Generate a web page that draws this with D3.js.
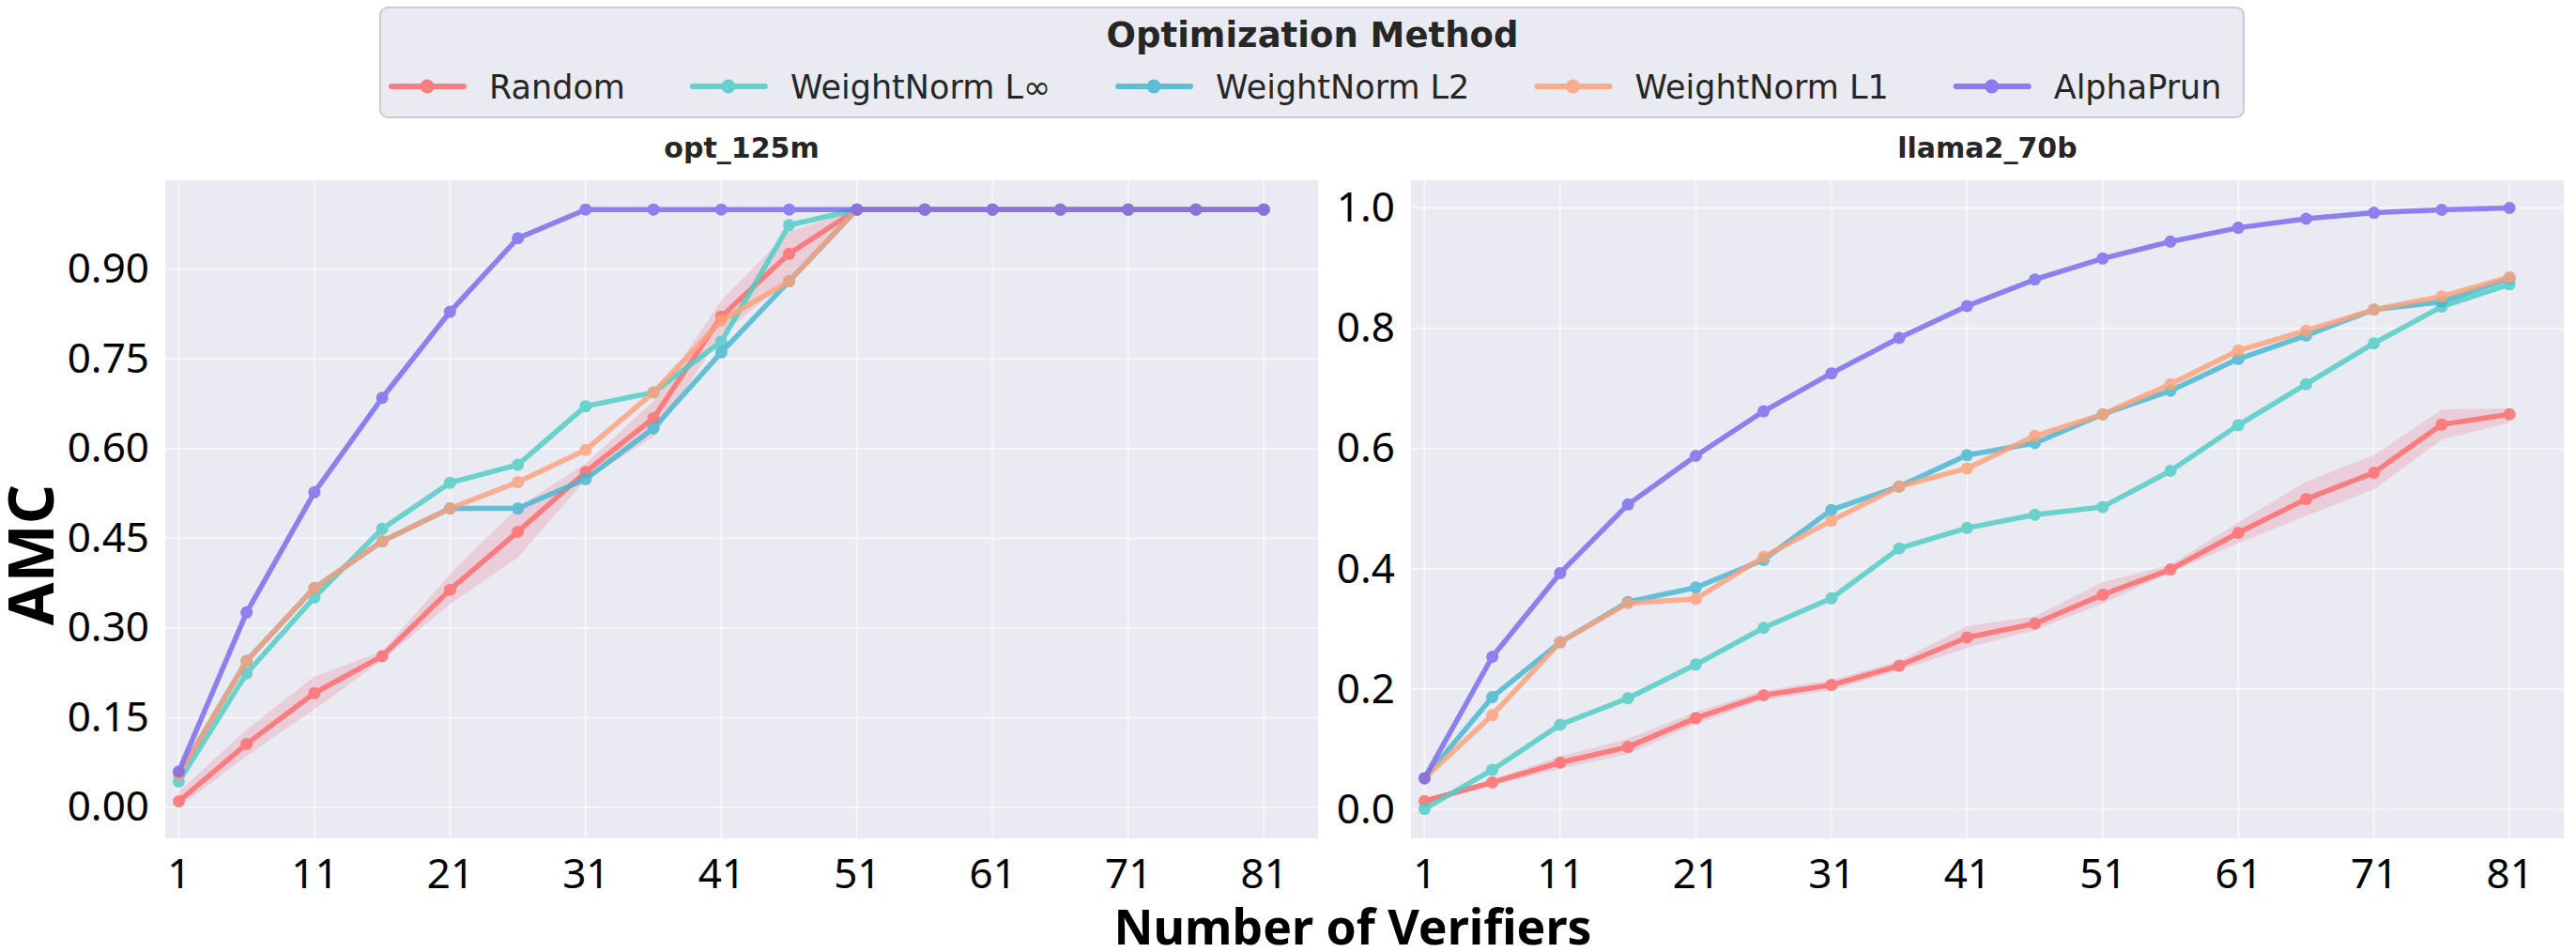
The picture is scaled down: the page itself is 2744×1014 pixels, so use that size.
<!DOCTYPE html>
<html>
<head>
<meta charset="utf-8">
<script src="https://cdn.jsdelivr.net/npm/d3@7"></script>
<style>
  body { margin: 0; background: #fff; }
  svg { display: block; }
</style>
</head>
<body>
<div id="chart"></div>
<script>
// x positions (number of verifiers)
const verifiers = [1, 6, 11, 16, 21, 26, 31, 36, 41, 46, 51, 56, 61, 66, 71, 76, 81];
const xTicks = [1, 11, 21, 31, 41, 51, 61, 71, 81];

const methods = ["Random", "WeightNorm L\u221e", "WeightNorm L2", "WeightNorm L1", "AlphaPrun"];
const colors = ["#ff6b6b", "#4ecdc4", "#45b7d1", "#ffa07a", "#7b68ee"];

// opt_125m
const optRandom = [0.010, 0.106, 0.191, 0.253, 0.364, 0.461, 0.561, 0.651, 0.821, 0.926, 1, 1, 1, 1, 1, 1, 1];
const optRandomLow = [0.000, 0.086, 0.164, 0.246, 0.340, 0.418, 0.548, 0.620, 0.790, 0.884, 1, 1, 1, 1, 1, 1, 1];
const optRandomHigh = [0.026, 0.130, 0.219, 0.261, 0.390, 0.502, 0.575, 0.680, 0.848, 0.963, 1, 1, 1, 1, 1, 1, 1];
const optLinf = [0.043, 0.224, 0.351, 0.466, 0.543, 0.573, 0.671, 0.694, 0.779, 0.974, 1, 1, 1, 1, 1, 1, 1];
const optL2 = [0.055, 0.245, 0.367, 0.445, 0.500, 0.500, 0.549, 0.634, 0.761, 0.880, 1, 1, 1, 1, 1, 1, 1];
const optL1 = [0.055, 0.245, 0.367, 0.445, 0.500, 0.544, 0.598, 0.694, 0.814, 0.880, 1, 1, 1, 1, 1, 1, 1];
const optAlpha = [0.060, 0.326, 0.527, 0.685, 0.829, 0.952, 1, 1, 1, 1, 1, 1, 1, 1, 1, 1, 1];

// llama2_70b
const llamaRandom = [0.014, 0.045, 0.078, 0.104, 0.152, 0.190, 0.207, 0.239, 0.286, 0.309, 0.357, 0.399, 0.460, 0.516, 0.560, 0.640, 0.657];
const llamaRandomLow = [0.009, 0.040, 0.068, 0.092, 0.142, 0.182, 0.198, 0.231, 0.269, 0.298, 0.342, 0.394, 0.443, 0.488, 0.532, 0.615, 0.643];
const llamaRandomHigh = [0.019, 0.050, 0.088, 0.118, 0.162, 0.198, 0.215, 0.247, 0.305, 0.321, 0.378, 0.407, 0.477, 0.545, 0.589, 0.665, 0.667];
const llamaLinf = [0.001, 0.066, 0.141, 0.185, 0.241, 0.302, 0.351, 0.434, 0.468, 0.490, 0.503, 0.563, 0.639, 0.707, 0.775, 0.836, 0.873];
const llamaL2 = [0.052, 0.187, 0.278, 0.345, 0.369, 0.415, 0.498, 0.537, 0.589, 0.609, 0.657, 0.696, 0.749, 0.788, 0.831, 0.844, 0.883];
const llamaL1 = [0.052, 0.157, 0.278, 0.343, 0.350, 0.420, 0.480, 0.537, 0.567, 0.621, 0.657, 0.707, 0.763, 0.796, 0.831, 0.853, 0.885];
const llamaAlpha = [0.052, 0.254, 0.393, 0.507, 0.588, 0.662, 0.725, 0.784, 0.837, 0.881, 0.916, 0.944, 0.967, 0.982, 0.992, 0.997, 1.000];

const yTicksOpt = [0, 0.15, 0.30, 0.45, 0.60, 0.75, 0.90];
const yTicksLlama = [0, 0.2, 0.4, 0.6, 0.8, 1.0];

const width = 2744, height = 1014;
const tickFont = "'Noto Sans', sans-serif";
const titleFont = "'DejaVu Sans', sans-serif";

const svg = d3.select("#chart").append("svg")
    .attr("width", width)
    .attr("height", height);

svg.append("rect").attr("width", width).attr("height", height).attr("fill", "#fff");

const panels = [
    {
        title: "opt_125m", left: 176, right: 1404, yDomain: [-0.052, 1.049],
        yTicks: yTicksOpt, fmt: d3.format(".2f"),
        series: [optRandom, optLinf, optL2, optL1, optAlpha],
        low: optRandomLow, high: optRandomHigh
    },
    {
        title: "llama2_70b", left: 1503, right: 2731, yDomain: [-0.048, 1.046],
        yTicks: yTicksLlama, fmt: d3.format(".1f"),
        series: [llamaRandom, llamaLinf, llamaL2, llamaL1, llamaAlpha],
        low: llamaRandomLow, high: llamaRandomHigh
    }
];

const plotTop = 192, plotBottom = 893;

panels.forEach(p => {
    const x = d3.scaleLinear().domain([0, 85]).range([p.left, p.right]);
    const y = d3.scaleLinear().domain(p.yDomain).range([plotBottom, plotTop]);
    const g = svg.append("g");

    // background
    g.append("rect")
        .attr("x", p.left).attr("y", plotTop)
        .attr("width", p.right - p.left).attr("height", plotBottom - plotTop)
        .attr("fill", "#eaeaf2");

    // grid
    g.selectAll(".vgrid").data(xTicks).enter().append("line")
        .attr("x1", d => x(d)).attr("x2", d => x(d))
        .attr("y1", plotTop).attr("y2", plotBottom)
        .attr("stroke", "#fff").attr("stroke-opacity", 0.55).attr("stroke-width", 2);
    g.selectAll(".hgrid").data(p.yTicks).enter().append("line")
        .attr("x1", p.left).attr("x2", p.right)
        .attr("y1", d => y(d)).attr("y2", d => y(d))
        .attr("stroke", "#fff").attr("stroke-opacity", 0.55).attr("stroke-width", 2);

    // axes
    const xAxis = g.append("g")
        .attr("transform", `translate(0,${plotBottom})`)
        .call(d3.axisBottom(x).tickValues(xTicks).tickSize(0).tickPadding(22));
    xAxis.select(".domain").remove();
    xAxis.selectAll("text")
        .attr("font-family", tickFont).attr("font-size", 44).attr("fill", "#000");

    const yAxis = g.append("g")
        .attr("transform", `translate(${p.left},0)`)
        .call(d3.axisLeft(y).tickValues(p.yTicks).tickFormat(p.fmt).tickSize(0).tickPadding(17));
    yAxis.select(".domain").remove();
    yAxis.selectAll("text")
        .attr("font-family", tickFont).attr("font-size", 44).attr("fill", "#000");

    // random band
    const area = d3.area()
        .x((d, i) => x(verifiers[i]))
        .y0((d, i) => y(p.low[i]))
        .y1((d, i) => y(p.high[i]));
    g.append("path")
        .attr("d", area(verifiers))
        .attr("fill", "#e8a0b0").attr("fill-opacity", 0.38);

    // lines and markers
    const line = d3.line()
        .x((d, i) => x(verifiers[i]))
        .y(d => y(d));
    p.series.forEach((vals, k) => {
        const sg = g.append("g").attr("opacity", 0.82);
        sg.append("path")
            .attr("d", line(vals))
            .attr("fill", "none")
            .attr("stroke", colors[k])
            .attr("stroke-width", 5.5)
            .attr("stroke-linejoin", "round");
        sg.selectAll("circle").data(vals).enter().append("circle")
            .attr("cx", (d, i) => x(verifiers[i]))
            .attr("cy", d => y(d))
            .attr("r", 6.5)
            .attr("fill", colors[k]);
    });

    // subplot title
    svg.append("text")
        .attr("x", (p.left + p.right) / 2).attr("y", 168)
        .attr("text-anchor", "middle")
        .attr("font-family", titleFont).attr("font-weight", "bold")
        .attr("font-size", 30).attr("fill", "#262626")
        .text(p.title);
});

// axis titles
svg.append("text")
    .attr("x", 1441).attr("y", 1006)
    .attr("text-anchor", "middle")
    .attr("font-family", tickFont).attr("font-weight", "bold")
    .attr("font-size", 52).attr("fill", "#000")
    .attr("textLength", 509).attr("lengthAdjust", "spacingAndGlyphs")
    .text("Number of Verifiers");

svg.append("text")
    .attr("transform", "translate(57,591) rotate(-90)")
    .attr("text-anchor", "middle")
    .attr("font-family", tickFont).attr("font-weight", "bold")
    .attr("font-size", 66).attr("fill", "#000")
    .text("AMC");

// legend
const legend = svg.append("g");
legend.append("rect")
    .attr("x", 405).attr("y", 8).attr("width", 1985).attr("height", 117)
    .attr("rx", 8)
    .attr("fill", "#eaeaf2").attr("stroke", "#cccccc").attr("stroke-width", 2);
legend.append("text")
    .attr("x", 1398).attr("y", 50)
    .attr("text-anchor", "middle")
    .attr("font-family", titleFont).attr("font-weight", "bold")
    .attr("font-size", 37).attr("fill", "#262626")
    .text("Optimization Method");

let lx = 417;
methods.forEach((m, k) => {
    const eg = legend.append("g").attr("opacity", 0.85);
    eg.append("line")
        .attr("x1", lx).attr("x2", lx + 77)
        .attr("y1", 92).attr("y2", 92)
        .attr("stroke", colors[k]).attr("stroke-width", 6).attr("stroke-linecap", "round");
    eg.append("circle")
        .attr("cx", lx + 38).attr("cy", 92).attr("r", 7.5)
        .attr("fill", colors[k]);
    const t = legend.append("text")
        .attr("x", lx + 104).attr("y", 105)
        .attr("font-family", titleFont).attr("font-size", 35).attr("fill", "#262626")
        .text(m);
    lx = lx + 104 + t.node().getComputedTextLength() + 72;
});
</script>
</body>
</html>
